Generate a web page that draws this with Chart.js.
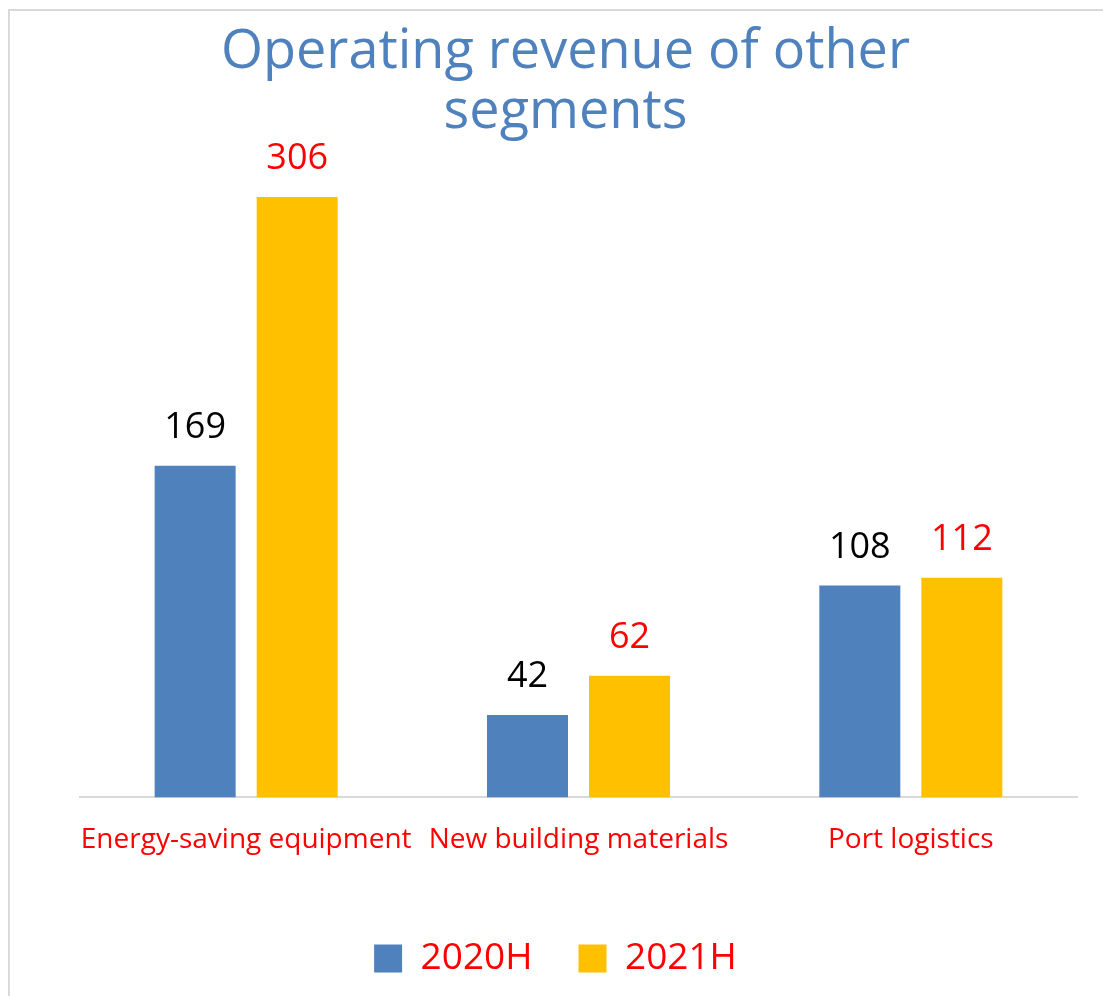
<!DOCTYPE html>
<html>
<head>
<meta charset="utf-8">
<script src="https://cdn.jsdelivr.net/npm/chart.js@4"></script>
<style>
  html, body { margin: 0; padding: 0; background: #fff; overflow: hidden; width: 1103px; height: 996px; }
  #frame {
    position: absolute; left: 8px; top: 9px;
    width: 1110px; height: 1000px;
    border: 2px solid #d9d9d9;
  }
  #wrap { position: absolute; left: 0; top: 0; width: 1093px; height: 985px; }
  #title {
    position: absolute; left: 0; top: 17px; width: 1131px;
    text-align: center;
    font-family: 'Open Sans', 'Noto Sans', sans-serif;
    font-size: 54px; line-height: 60px;
    color: #4f81bd;
  }
</style>
</head>
<body>
<div id="frame"><div id="wrap"><canvas id="revChart"></canvas></div></div>
<div id="title">Operating revenue of other<br>segments</div>
<script>
'use strict';

// chart data
const categories = ['Energy-saving equipment', 'New building materials', 'Port logistics'];
const seriesNames = ['2020H', '2021H'];
const revenue2020H = [169, 42, 108];
const revenue2021H = [306, 62, 112];

const barColors = ['#4f81bd', '#ffc000'];
const labelColors = ['#000000', '#ff0000'];
const FONT = "'Open Sans', 'Noto Sans', sans-serif";

// draws the value above each bar
const valueLabels = {
    id: 'valueLabels',
    afterDatasetsDraw(chart) {
        const ctx = chart.ctx;
        ctx.save();
        ctx.font = `36px ${FONT}`;
        ctx.textAlign = 'center';
        ctx.textBaseline = 'alphabetic';
        chart.data.datasets.forEach((ds, i) => {
            const meta = chart.getDatasetMeta(i);
            ctx.fillStyle = labelColors[i];
            meta.data.forEach((bar, j) => {
                ctx.fillText(String(ds.data[j]), bar.x, bar.y - 28);
            });
        });
        ctx.restore();
    }
};

new Chart(document.getElementById('revChart'), {
    type: 'bar',
    data: {
        labels: categories,
        datasets: [
            { label: seriesNames[0], data: revenue2020H, backgroundColor: barColors[0] },
            { label: seriesNames[1], data: revenue2021H, backgroundColor: barColors[1] }
        ]
    },
    options: {
        responsive: true,
        maintainAspectRatio: false,
        animation: false,
        categoryPercentage: 0.614,
        barPercentage: 0.794,
        layout: { padding: { left: 24, right: 26, top: 139, bottom: 9 } },
        plugins: {
            title: { display: false },
            legend: {
                position: 'bottom',
                labels: {
                    color: '#ff0000',
                    boxWidth: 28,
                    boxHeight: 28,
                    padding: 46,
                    font: { family: FONT, size: 37 }
                }
            },
            tooltip: { enabled: false }
        },
        scales: {
            x: {
                grid: { display: false },
                border: { display: true, color: '#d9d9d9', width: 2 },
                ticks: {
                    color: '#ff0000',
                    padding: 18,
                    maxRotation: 0,
                    autoSkip: false,
                    font: { family: FONT, size: 28 }
                },
                afterFit(scale) { scale.height += 19; }
            },
            y: {
                display: true,
                min: 0,
                max: 330,
                grid: { display: false },
                border: { display: false },
                ticks: { display: false },
                afterFit(scale) { scale.width = 46; }
            }
        }
    },
    plugins: [valueLabels]
});
</script>
</body>
</html>
